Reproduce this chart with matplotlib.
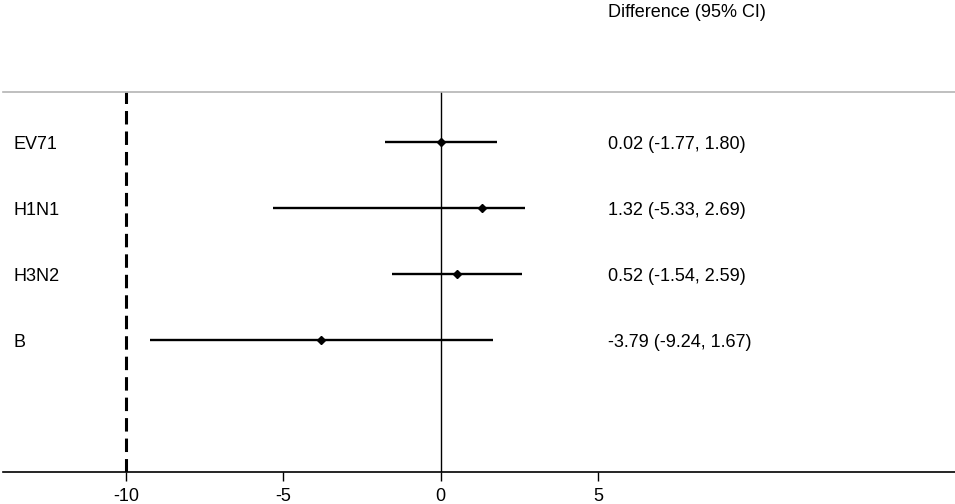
import matplotlib
matplotlib.use("Agg")
import matplotlib.pyplot as plt
import matplotlib.transforms as mtransforms

plt.rcParams['font.family'] = ['Liberation Sans', 'DejaVu Sans']

groups = ["EV71", "H1N1", "H3N2", "B"]
diff = [0.02, 1.32, 0.52, -3.79]
lower = [-1.77, -5.33, -1.54, -9.24]
upper = [1.80, 2.69, 2.59, 1.67]
xticks = [-10, -5, 0, 5]
header = "Difference (95% CI)"

fig = plt.figure(figsize=(9.55, 5.04), dpi=100)
ax = fig.add_axes([3 / 955, 0.0629, 952 / 955, 0.754])

rows = list(range(len(groups)))

# reference lines
ax.axvline(0, color="black", lw=1.0, zorder=1)
ax.axvline(-10, color="black", lw=2.2, linestyle=(0, (4.4, 2.3)), zorder=1)

# confidence intervals and point estimates
ax.hlines(rows, lower, upper, color="black", lw=1.7, zorder=2)
ax.plot(diff, rows, "D", color="black", markersize=4.2, zorder=3)

ax.set_xlim(-13.9, 16.33)
ax.set_ylim(5.0, -0.758)

ax.set_xticks(xticks)
ax.set_xticklabels([str(t) for t in xticks])
ax.set_yticks([])
ax.tick_params(axis="x", direction="out", length=6.5, width=1.0,
               pad=4.5, labelsize=13, colors="black")

for side in ["left", "right"]:
    ax.spines[side].set_visible(False)
ax.spines["bottom"].set_linewidth(1.2)
ax.spines["top"].set_color("#b4b4b4")
ax.spines["top"].set_linewidth(1.2)

trans = mtransforms.blended_transform_factory(ax.transAxes, ax.transData)
trans = mtransforms.offset_copy(trans, fig=fig, y=-6.7 * 0.72, units="points")
for r, g, d, lo, hi in zip(rows, groups, diff, lower, upper):
    ax.text(0.0109, r, g, transform=trans, ha="left", va="baseline",
            fontsize=13)
    ax.text(0.636, r, f"{d:.2f} ({lo:.2f}, {hi:.2f})", transform=trans,
            ha="left", va="baseline", fontsize=13)

fig.text(607.5 / 955, 1 - 16.7 / 504, header, ha="left", va="baseline",
         fontsize=13)

fig.savefig("out.png", dpi=100)
